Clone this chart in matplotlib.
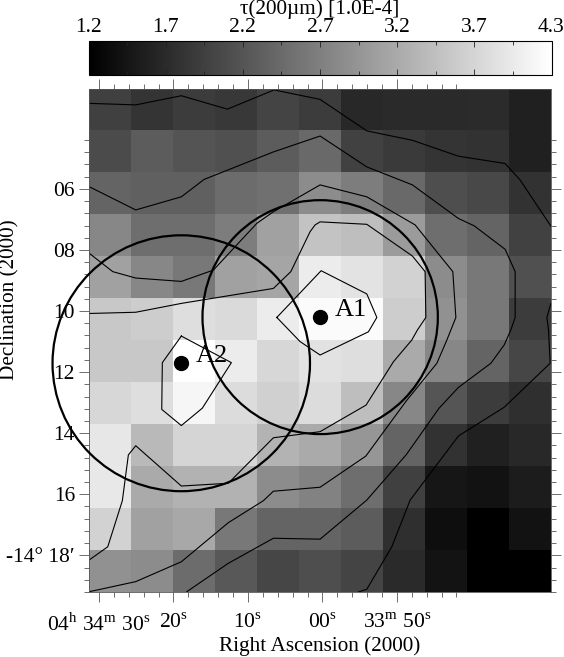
import matplotlib
matplotlib.use('Agg')
import matplotlib.pyplot as plt
import numpy as np
from matplotlib.patches import Ellipse

plt.rcParams['font.family'] = ['Liberation Serif', 'DejaVu Serif']
plt.rcParams['mathtext.fontset'] = 'custom'
plt.rcParams['mathtext.rm'] = 'Liberation Serif'

# Mapa de tau(200um) en unidades de 1.0E-4, de arriba a abajo
tau = [
    [1.98, 1.83, 1.93, 1.88, 2.03, 1.93, 1.69, 1.71, 1.71, 1.73, 1.61],
    [2.12, 2.32, 2.22, 2.17, 2.32, 2.48, 2.00, 1.91, 1.83, 1.81, 1.61],
    [2.42, 2.37, 2.37, 2.51, 2.56, 2.90, 2.72, 2.48, 2.15, 2.08, 1.81],
    [2.84, 2.54, 2.54, 2.72, 3.15, 3.57, 3.51, 3.08, 2.54, 2.42, 2.00],
    [3.15, 2.84, 2.66, 3.15, 3.21, 4.06, 3.97, 3.75, 2.90, 2.66, 2.17],
    [3.63, 3.69, 3.90, 3.85, 4.06, 4.24, 4.24, 3.69, 2.96, 2.66, 1.93],
    [3.63, 3.63, 4.30, 4.06, 3.81, 3.94, 3.90, 3.27, 2.84, 2.42, 2.05],
    [3.81, 3.90, 4.18, 3.87, 3.73, 3.87, 3.51, 2.84, 2.23, 1.95, 1.78],
    [4.00, 3.45, 3.78, 3.78, 3.39, 3.27, 3.02, 2.42, 1.81, 1.59, 1.69],
    [4.02, 3.27, 3.36, 3.36, 2.90, 2.78, 2.54, 1.98, 1.47, 1.42, 1.54],
    [3.75, 3.15, 3.24, 2.66, 2.42, 2.42, 2.32, 1.78, 1.37, 1.20, 1.42],
    [2.96, 2.90, 2.51, 2.27, 2.05, 2.15, 2.03, 1.71, 1.44, 1.20, 1.20],
]

# Contornos: (segundos de AR respecto a 04h34m00s, minutos de declinacion)
contorno1 = [(31.3, 3.20), (25.06, 3.25), (18.94, 2.95), (12.76, 3.39), (6.49, 2.76), (0.31, 3.07),
             (-5.96, 4.10), (-12.09, 4.41), (-18.27, 4.93), (-24.54, 5.17), (-26.55, 5.71), (-30.68, 7.22)]
contorno2 = [(-30.68, 9.75), (-30.14, 10.21), (-30.36, 10.62), (-30.58, 11.71), (-24.41, 13.15),
             (-18.27, 14.09), (-11.78, 16.19), (-9.32, 17.72), (-5.96, 19.11), (-4.84, 19.2)]
contorno3 = [(31.3, 5.93), (25.06, 6.69), (18.94, 6.26), (15.88, 5.69), (6.58, 4.79), (0.31, 4.27),
             (-5.96, 5.28), (-12.09, 5.87), (-18.27, 6.97), (-20.38, 7.21), (-24.54, 7.98), (-25.88, 8.71),
             (-25.88, 10.21), (-25.3, 10.62), (-24.41, 11.11), (-22.62, 11.71), (-18.27, 12.50),
             (-15.67, 13.18), (-11.24, 14.71), (-5.96, 16.19), (0.31, 17.47), (6.58, 17.44),
             (12.63, 18.26), (18.21, 19.19)]
contorno4 = [(31.3, 8.11), (28.15, 8.71), (25.06, 8.92), (18.94, 9.03), (14.64, 8.66), (8.81, 7.13),
             (6.58, 6.75), (0.31, 5.87), (-5.96, 6.26), (-12.45, 7.18), (-17.51, 8.71), (-17.92, 10.21),
             (-16.71, 10.95), (-15.37, 11.71), (-11.24, 12.95), (-5.83, 14.75), (0.31, 15.77),
             (6.58, 15.90), (7.92, 16.21), (12.63, 16.93), (18.94, 18.21), (25.06, 18.86), (31.3, 19.19)]
contorno5 = [(31.3, 10.08), (25.06, 10.04), (18.94, 9.75), (6.58, 9.26), (4.24, 8.71), (1.65, 7.40),
             (0.98, 7.18), (0.31, 7.08), (-5.96, 7.16), (-12.09, 8.20), (-13.79, 8.71), (-13.89, 10.21),
             (-12.76, 10.62), (-12.0, 10.95), (-9.54, 11.66), (-5.86, 13.08), (0.31, 13.95),
             (6.58, 14.15), (12.63, 15.64), (18.94, 15.73), (25.06, 14.41), (26.05, 14.71),
             (26.86, 16.21), (28.82, 17.72), (31.3, 18.15)]
contorno6 = [(6.12, 10.21), (0.17, 8.68), (-5.96, 9.44), (-7.31, 10.21), (-6.18, 10.68), (0.31, 11.44),
             (3.0, 11.0), (6.12, 10.21)]
contorno7 = [(18.94, 10.82), (12.22, 11.69), (16.12, 13.18), (18.94, 13.75), (21.57, 13.22),
             (21.49, 11.69), (18.94, 10.82)]
contornos = [contorno1, contorno2, contorno3, contorno4, contorno5, contorno6, contorno7]

# Regiones A1 y A2: nombre, AR (s), dec (min), radio (min)
regiones = [('A1', 0.3, 10.2, 3.83), ('A2', 18.95, 11.71, 4.19)]
seg_por_min = 4.125

ra_mayores = [30, 20, 10, 0, -10]
ra_etiquetas = ['04$^{\\mathrm{h}}$ 34$^{\\mathrm{m}}$ 30$^{\\mathrm{s}}$', '20$^{\\mathrm{s}}$',
                '10$^{\\mathrm{s}}$', '00$^{\\mathrm{s}}$', '33$^{\\mathrm{m}}$ 50$^{\\mathrm{s}}$']
ra_menores = [28, 26, 24, 22, 18, 16, 14, 12, 8, 6, 4, 2, -2, -4, -6, -8, -12, -14, -16, -18]
dec_mayores = [6, 8, 10, 12, 14, 16, 18]
dec_etiquetas = ['06', '08', '10', '12', '14', '16', '-14\u00b0 18\u2032']
dec_menores = [4.4, 4.8, 5.2, 5.6, 6.4, 6.8, 7.2, 7.6, 8.4, 8.8, 9.2, 9.6, 10.4, 10.8, 11.2, 11.6,
               12.4, 12.8, 13.2, 13.6, 14.4, 14.8, 15.2, 15.6, 16.4, 16.8, 17.2, 17.6, 18.4, 18.8, 19.2]

cb_min, cb_max = 1.2, 4.3
cb_etiquetas = ['1.2', '1.7', '2.2', '2.7', '3.2', '3.7', '4.3']

W, H = 564, 657
fig = plt.figure(figsize=(W / 100, H / 100), dpi=100, facecolor='white')

# Mapa principal
ax = fig.add_axes([89.2 / W, 1 - 592 / H, 462 / W, 503.3 / H])
im = ax.imshow(tau, cmap='gray', vmin=cb_min, vmax=cb_max, extent=[31.31, -30.72, 19.2, 2.72],
               aspect='auto', interpolation='nearest')

for c in contornos:
    xs, ys = zip(*c)
    ax.plot(xs, ys, color='black', lw=0.8)

for nombre, ra, dec, radio in regiones:
    ax.add_patch(Ellipse((ra, dec), 2 * radio * seg_por_min, 2 * radio, fill=False, ec='black',
                         lw=1.6, clip_on=False, zorder=4))
    ax.plot([ra], [dec], 'o', color='black', ms=10, zorder=5)
    ax.text(ra - 2.0, dec - 0.23, nombre, fontsize=19, ha='left', va='center', color='black', zorder=5)

ax.set_xlim(31.31, -30.72)
ax.set_ylim(19.2, 2.72)
ax.set_xticks(ra_mayores)
ax.set_xticklabels(ra_etiquetas)
ax.set_xticks(ra_menores, minor=True)
ax.set_yticks(dec_mayores)
ax.set_yticklabels(dec_etiquetas)
ax.set_yticks(dec_menores, minor=True)
ax.tick_params(which='major', direction='out', length=7.2, width=0.5, color='#333333',
               top=True, right=True, labelsize=15.5, pad=3)
ax.tick_params(which='minor', direction='out', length=3.6, width=0.5, color='#333333', top=True, right=True)
ax.tick_params(axis='x', which='major', pad=8)
for s in ax.spines.values():
    s.set_linewidth(0.6)
    s.set_color('#555555')
fig.text(319.6 / W, 1 - 645.7 / H, 'Right Ascension (2000)', fontsize=15.3, ha='center', va='center')
fig.text(10 / W, 1 - 300 / H, 'Declination (2000)', fontsize=15.3, ha='center', va='center', rotation=90)

# Barra de color
cax = fig.add_axes([88.5 / W, 1 - 75.3 / H, 463 / W, 34 / H])
cbar = fig.colorbar(im, cax=cax, orientation='horizontal')
mayores = np.linspace(cb_min, cb_max, 7)
menores = np.linspace(cb_min, cb_max, 13)
cbar.set_ticks(mayores)
cbar.set_ticklabels(cb_etiquetas)
cax.set_xticks(menores, minor=True)
cax.xaxis.set_ticks_position('both')
cax.tick_params(which='both', direction='in', width=0.6, color='#222222', labeltop=True, labelbottom=False,
                top=True, bottom=True)
cax.tick_params(which='major', length=4.5, labelsize=15.5, pad=3)
cax.tick_params(which='minor', length=3)
cbar.outline.set_linewidth(0.8)
fig.text(319.6 / W, 1 - 9 / H, '\u03c4(200\u00b5m) [1.0E-4]', fontsize=15.3, ha='center', va='center')

fig.savefig('out.png', dpi=100)
